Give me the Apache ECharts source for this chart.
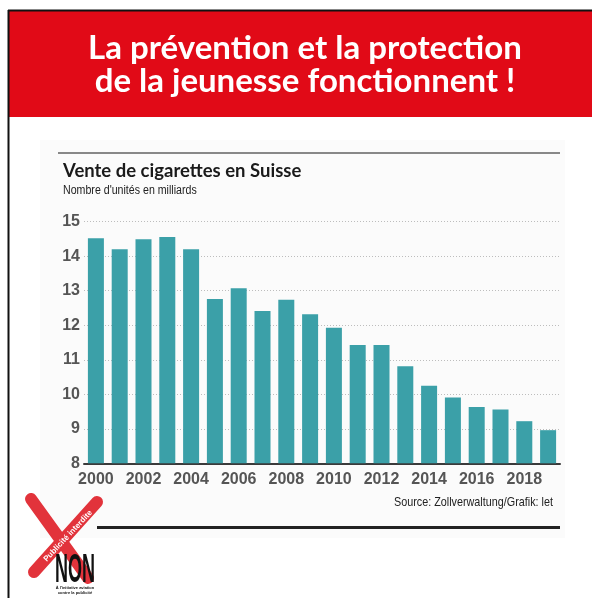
<!DOCTYPE html>
<html>
<head>
<meta charset="utf-8">
<script src="https://cdn.jsdelivr.net/npm/echarts@6/dist/echarts.min.js"></script>
<style>
html,body{margin:0;padding:0;background:#fff;}
#chart{width:592px;height:598px;}
</style>
</head>
<body>
<div id="chart"></div>
<script>
var years = ['2000','2001','2002','2003','2004','2005','2006','2007','2008','2009','2010','2011','2012','2013','2014','2015','2016','2017','2018','2019'];
var sales = [14.52,14.20,14.49,14.56,14.20,12.76,13.07,12.41,12.74,12.32,11.93,11.43,11.43,10.81,10.25,9.91,9.63,9.56,9.22,8.96];
var yTicks = [8,9,10,11,12,13,14,15];

var chart = echarts.init(document.getElementById('chart'), null, {renderer:'canvas'});
var sans = '"Liberation Sans",sans-serif';
var option = {
  animation:false,
  backgroundColor:'#ffffff',
  grid:{left:84, right:32, top:221.7, bottom:134.7},
  xAxis:{
    type:'category',
    data:years,
    axisLine:{lineStyle:{color:'#3a3a3a', width:2}},
    axisTick:{show:false},
    axisLabel:{interval:1, color:'#555', fontSize:16, fontWeight:'bold', fontFamily:sans, margin:8}
  },
  yAxis:{
    type:'value', min:yTicks[0], max:yTicks[yTicks.length-1], interval:1,
    axisLine:{show:false}, axisTick:{show:false},
    axisLabel:{color:'#555', fontSize:16, fontWeight:'bold', fontFamily:sans, margin:4},
    splitLine:{lineStyle:{color:'#bdbdbd', type:[1,2], width:1}}
  },
  series:[{
    type:'bar', data:sales, barWidth:16,
    itemStyle:{color:'#3ba0a8'}
  }],
  graphic:[
    {type:'rect', z:-10, shape:{x:40,y:140,width:525,height:398}, style:{fill:'#fbfbfb'}},
    {type:'rect', shape:{x:9,y:11,width:583,height:106}, style:{fill:'#e10a17'}},
    {type:'line', shape:{x1:8.5,y1:10,x2:8.5,y2:598}, style:{stroke:'#111',lineWidth:2}},
    {type:'line', shape:{x1:8,y1:10.5,x2:592,y2:10.5}, style:{stroke:'#111',lineWidth:2}},
    {type:'text', x:305, y:48, style:{text:'La prévention et la protection', fill:'#fff', font:'bold 33px Lato, sans-serif', textAlign:'center', textVerticalAlign:'middle'}},
    {type:'text', x:305, y:81, style:{text:'de la jeunesse fonctionnent !', fill:'#fff', font:'bold 33px Lato, sans-serif', textAlign:'center', textVerticalAlign:'middle'}},
    {type:'line', shape:{x1:58,y1:153,x2:560,y2:153}, style:{stroke:'#888',lineWidth:2}},
    {type:'text', x:63, y:171, style:{text:'Vente de cigarettes en Suisse', fill:'#1a1a1a', font:'bold 18.5px Lato, sans-serif', textVerticalAlign:'middle'}},
    {type:'text', x:63, y:191, scaleX:0.85, style:{text:"Nombre d'unités en milliards", fill:'#222', font:'12.5px '+sans, textVerticalAlign:'middle'}},
    {type:'text', x:553, y:502, scaleX:0.8, style:{text:'Source: Zollverwaltung/Grafik: let', fill:'#222', font:'13.5px '+sans, textAlign:'right', textVerticalAlign:'middle'}},
    {type:'line', shape:{x1:97,y1:527.5,x2:560,y2:527.5}, style:{stroke:'#222',lineWidth:3}},
    {type:'line', shape:{x1:31,y1:499,x2:88,y2:578}, style:{stroke:'#e2333b',lineWidth:12,lineCap:'round'}},
    {type:'line', shape:{x1:97,y1:502,x2:34,y2:572}, style:{stroke:'#e2333b',lineWidth:12,lineCap:'round'}},
    {type:'text', x:68, y:536, rotation:Math.PI*47/180, style:{text:'Publicité interdite', fill:'#fff', font:'bold 8px '+sans, textAlign:'center', textVerticalAlign:'middle'}},
    {type:'text', x:75, y:571, scaleX:0.45, style:{text:'NON', fill:'#111', font:'bold 40px '+sans, textAlign:'center', textVerticalAlign:'middle'}},
    {type:'text', x:75, y:590, style:{text:"À l'initiative aviation\ncontre la publicité", fill:'#111', font:'bold 4px sans-serif', textAlign:'center', textVerticalAlign:'middle', lineHeight:5}}
  ]
};
chart.setOption(option);
</script>
</body>
</html>
